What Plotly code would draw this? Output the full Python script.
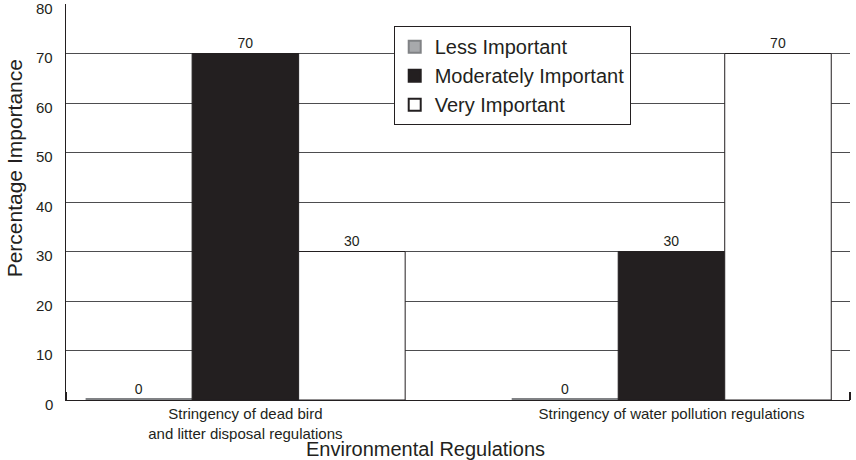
import plotly.graph_objects as go

categories = ["Stringency of dead bird<br>and litter disposal regulations",
              "Stringency of water pollution regulations"]
less_important = [0, 0]
moderately_important = [70, 30]
very_important = [30, 70]
y_ticks = [0, 10, 20, 30, 40, 50, 60, 70, 80]

ink = "#231f20"
font = "Liberation Sans, Arial, sans-serif"

fig = go.Figure()
series = [
    ("Less Important", less_important, "#a7a9ac", "#808285", 4),
    ("Moderately Important", moderately_important, ink, ink, 1),
    ("Very Important", very_important, "#ffffff", ink, 1),
]
for name, vals, col, lcol, lw in series:
    fig.add_trace(go.Bar(
        x=categories, y=vals, name=name,
        marker=dict(color=col, line=dict(color=lcol, width=lw)),
        text=[str(v) for v in vals], textposition="outside",
        textfont=dict(size=14, color=ink, family=font),
        cliponaxis=False,
    ))

fig.update_layout(
    width=856, height=460,
    margin=dict(l=66, r=6, t=4, b=60, autoexpand=False),
    paper_bgcolor="white", plot_bgcolor="white",
    barmode="group", bargap=0.25, bargroupgap=0,
    font=dict(family=font, color=ink),
    showlegend=True,
    legend=dict(x=0.418, y=0.944, xanchor="left", yanchor="top",
                bordercolor=ink, borderwidth=1, bgcolor="white",
                font=dict(size=20, color=ink, family=font),
                tracegroupgap=0, itemsizing="constant"),
    xaxis=dict(range=[-0.421, 1.419], showgrid=False, showline=True,
               linecolor=ink, linewidth=1, ticks="", automargin=False,
               tickfont=dict(size=15, color=ink, family=font)),
    yaxis=dict(range=[0, 80], tickvals=y_ticks, showgrid=True,
               gridcolor="#4d4d4f", gridwidth=1, showline=True,
               linecolor=ink, linewidth=1, ticks="", zeroline=False,
               showticklabels=False, automargin=False),
)

# y tick labels (slightly below their gridlines, as in the reference)
for v in y_ticks:
    fig.add_annotation(x=0, xref="paper", y=v, yref="y", text=str(v),
                       showarrow=False, xanchor="right", yanchor="middle",
                       xshift=-11, yshift=-4,
                       font=dict(size=15, color=ink, family=font))

# axis titles
fig.add_annotation(x=-0.0663, xref="paper", y=0.585, yref="paper",
                   xanchor="center", yanchor="middle",
                   text="Percentage Importance", textangle=-90, showarrow=False,
                   font=dict(size=21, color=ink, family=font))
fig.add_annotation(x=0.458, xref="paper", y=-0.1237, yref="paper",
                   xanchor="center", yanchor="middle",
                   text="Environmental Regulations", showarrow=False,
                   font=dict(size=20, color=ink, family=font))

# small end ticks at both ends of the category axis
for xp in (0, 1):
    fig.add_shape(type="line", xref="paper", yref="paper",
                  x0=xp, x1=xp, y0=0, y1=0.02,
                  line=dict(color=ink, width=2))

fig.write_html("out.html", config={"displayModeBar": False},
               post_script="document.body.style.margin='0';")
